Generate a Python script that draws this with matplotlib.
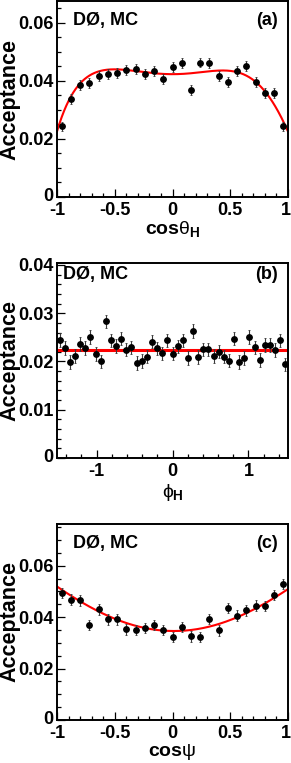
import numpy as np
import matplotlib
matplotlib.use('Agg')
import matplotlib.pyplot as plt
import matplotlib.transforms as mtransforms
from matplotlib.ticker import FixedLocator, FixedFormatter, MultipleLocator, NullFormatter

FONT = 'Liberation Sans'
TICK_FS = 13
LAB_FS = 14
TXT_FS = 13

plt.rcParams['axes.unicode_minus'] = False
plt.rcParams['mathtext.fontset'] = 'custom'
plt.rcParams['mathtext.rm'] = 'Liberation Sans:bold'
plt.rcParams['mathtext.bf'] = 'Liberation Sans:bold'
plt.rcParams['mathtext.it'] = 'Liberation Sans'
plt.rcParams['mathtext.fallback'] = 'stixsans'

# ---------------- data ----------------
cos_bins = [-0.96, -0.88, -0.80, -0.72, -0.64, -0.56, -0.48, -0.40, -0.32, -0.24,
            -0.16, -0.08, 0.00, 0.08, 0.16, 0.24, 0.32, 0.40, 0.48, 0.56,
            0.64, 0.72, 0.80, 0.88, 0.96]

acc_costh = [0.0243, 0.0339, 0.0386, 0.0394, 0.0417, 0.0423, 0.0427, 0.0437, 0.0440, 0.0423,
             0.0433, 0.0406, 0.0448, 0.0460, 0.0368, 0.0463, 0.0462, 0.0417, 0.0397, 0.0434,
             0.0451, 0.0397, 0.0357, 0.0359, 0.0243]
err_costh = 0.0017

phi_bins = [-1.486, -1.419, -1.351, -1.284, -1.216, -1.148, -1.081, -1.013, -0.946, -0.878,
            -0.811, -0.743, -0.676, -0.608, -0.540, -0.473, -0.405, -0.338, -0.270, -0.203,
            -0.135, -0.068, 0.000, 0.068, 0.135, 0.203, 0.270, 0.338, 0.405, 0.473,
            0.540, 0.608, 0.676, 0.743, 0.811, 0.878, 0.946, 1.013, 1.081, 1.148,
            1.216, 1.284, 1.351, 1.419, 1.486]

acc_phi = [0.02446, 0.02277, 0.01986, 0.02108, 0.02358, 0.02277, 0.02507, 0.02155, 0.02000, 0.02831,
           0.02439, 0.02324, 0.02473, 0.02243, 0.02291, 0.01966, 0.02007, 0.02101, 0.02412, 0.02270,
           0.02169, 0.02439, 0.02162, 0.02311, 0.02439, 0.02074, 0.02628, 0.02088, 0.02250, 0.02250,
           0.02115, 0.02203, 0.02101, 0.02020, 0.02473, 0.01986, 0.02074, 0.02507, 0.02291, 0.02034,
           0.02345, 0.02345, 0.02236, 0.02439, 0.01939]
err_phi = 0.0014

acc_cospsi = [0.0494, 0.0468, 0.0465, 0.0370, 0.0430, 0.0391, 0.0391, 0.0352, 0.0351, 0.0357,
              0.0370, 0.0351, 0.0322, 0.0361, 0.0325, 0.0322, 0.0393, 0.0348, 0.0436, 0.0406,
              0.0426, 0.0445, 0.0443, 0.0487, 0.0528]
err_cospsi = 0.0020

# fitted functions (polynomial coefficients, lowest order first)
fit_costh = [0.0423, 0.0, 0.01321, 0.0, -0.0296, -0.0115, -0.00336, 0.0115]
fit_phi = [0.02236]
fit_cospsi = [0.0346, -0.0005, 0.0185, 0.0, -0.0017]

panels = [
    dict(x=cos_bins, y=acc_costh, e=err_costh, fit=fit_costh, xlim=(-1, 1), ylim=(0, 0.0675),
         ymaj=[0, 0.02, 0.04, 0.06], ylab=['0', '0.02', '0.04', '0.06'], ymin=0.005,
         xmaj=[-1, -0.5, 0, 0.5, 1], xlab=['-1', '-0.5', '0', '0.5', '1'], xmin=0.1,
         xtitle=r'cos$\theta_{\mathdefault{H}}$', tag='(a)', fitlw=1.5,
         rect=[57, 1, 288, 197], txt_x=0.069, txt_y=0.878, xt_top=219),
    dict(x=phi_bins, y=acc_phi, e=err_phi, fit=fit_phi, xlim=(-1.52, 1.52), ylim=(0, 0.0404),
         ymaj=[0, 0.01, 0.02, 0.03, 0.04], ylab=['0', '0.01', '0.02', '0.03', '0.04'], ymin=0.002,
         xmaj=[-1, 0, 1], xlab=['-1', '0', '1'], xmin=0.2,
         xtitle=r'$\phi_{\mathdefault{H}}$', tag='(b)', fitlw=2.2,
         rect=[57, 263, 288, 458], txt_x=0.026, txt_y=0.918, xt_top=482),
    dict(x=cos_bins, y=acc_cospsi, e=err_cospsi, fit=fit_cospsi, xlim=(-1, 1), ylim=(0, 0.0762),
         ymaj=[0, 0.02, 0.04, 0.06], ylab=['0', '0.02', '0.04', '0.06'], ymin=0.005,
         xmaj=[-1, -0.5, 0, 0.5, 1], xlab=['-1', '-0.5', '0', '0.5', '1'], xmin=0.1,
         xtitle=r'cos$\psi$', tag='(c)', fitlw=1.5,
         rect=[57, 524, 288, 720], txt_x=0.069, txt_y=0.876, xt_top=742),
]

W, H = 291, 763
fig = plt.figure(figsize=(W / 100, H / 100), dpi=100)

for p in panels:
    x0, y0, x1, y1 = p['rect']
    ax = fig.add_axes([x0 / W, 1 - y1 / H, (x1 - x0) / W, (y1 - y0) / H])
    xs = np.linspace(p['xlim'][0], p['xlim'][1], 400)
    ys = np.polynomial.polynomial.polyval(xs, p['fit'])
    ax.plot(xs, ys, color='#ff0000', lw=p['fitlw'], zorder=2)
    ax.errorbar(p['x'], p['y'], yerr=p['e'], fmt='o', color='black', ms=3.9,
                ecolor='#3a3a3a', elinewidth=0.8, capsize=1.0, capthick=0.6, zorder=3)
    ax.set_xlim(*p['xlim'])
    ax.set_ylim(*p['ylim'])
    ax.yaxis.set_major_locator(FixedLocator(p['ymaj']))
    ax.yaxis.set_major_formatter(FixedFormatter(p['ylab']))
    ax.yaxis.set_minor_locator(MultipleLocator(p['ymin']))
    ax.xaxis.set_major_locator(FixedLocator(p['xmaj']))
    ax.xaxis.set_major_formatter(FixedFormatter(p['xlab']))
    ax.xaxis.set_minor_locator(MultipleLocator(p['xmin']))
    ax.yaxis.set_minor_formatter(NullFormatter())
    ax.xaxis.set_minor_formatter(NullFormatter())
    ax.tick_params(which='both', direction='in', top=False, right=False, width=0.9)
    ax.tick_params(which='major', length=5.5)
    ax.tick_params(which='minor', length=3)
    ax.tick_params(axis='y', which='major', pad=2.5)
    ax.tick_params(axis='x', which='major', pad=3.5)
    for lab in ax.get_xticklabels() + ax.get_yticklabels():
        lab.set_fontfamily(FONT)
        lab.set_fontweight('bold')
        lab.set_fontsize(TICK_FS)
    # nudge the right-most x tick label so it stays inside the figure
    xticks = ax.xaxis.get_major_ticks()
    if p['xmaj'][-1] >= p['xlim'][1]:
        shift = mtransforms.ScaledTranslation(-2.5 / 100, 0, fig.dpi_scale_trans)
        xticks[-1].label1.set_transform(xticks[-1].label1.get_transform() + shift)
    # lift the bottom y tick label a touch so it does not collide with the x label
    yticks = ax.yaxis.get_major_ticks()
    up = mtransforms.ScaledTranslation(0, 2.5 / 100, fig.dpi_scale_trans)
    yticks[0].label1.set_transform(yticks[0].label1.get_transform() + up)
    for s in ax.spines.values():
        s.set_linewidth(1.4)
    ax.text(p['txt_x'], p['txt_y'], 'DØ, MC', transform=ax.transAxes, ha='left', va='baseline',
            fontsize=TXT_FS, fontweight='bold', family=[FONT, 'DejaVu Sans'])
    ax.text(0.957, p['txt_y'], p['tag'], transform=ax.transAxes, ha='right', va='baseline',
            fontsize=TXT_FS, fontweight='bold', family=[FONT, 'DejaVu Sans'])
    # y title
    fig.text(9.5 / W, 1 - ((y0 + y1) / 2) / H, 'Acceptance', rotation=90, ha='center', va='center',
             fontsize=15.5, fontweight='bold', family=FONT)
    # x title
    fig.text(172.5 / W, 1 - p['xt_top'] / H, p['xtitle'], ha='center', va='top',
             fontsize=LAB_FS, fontweight='bold', family=[FONT, 'DejaVu Sans'])

fig.savefig('out.png', dpi=100)
